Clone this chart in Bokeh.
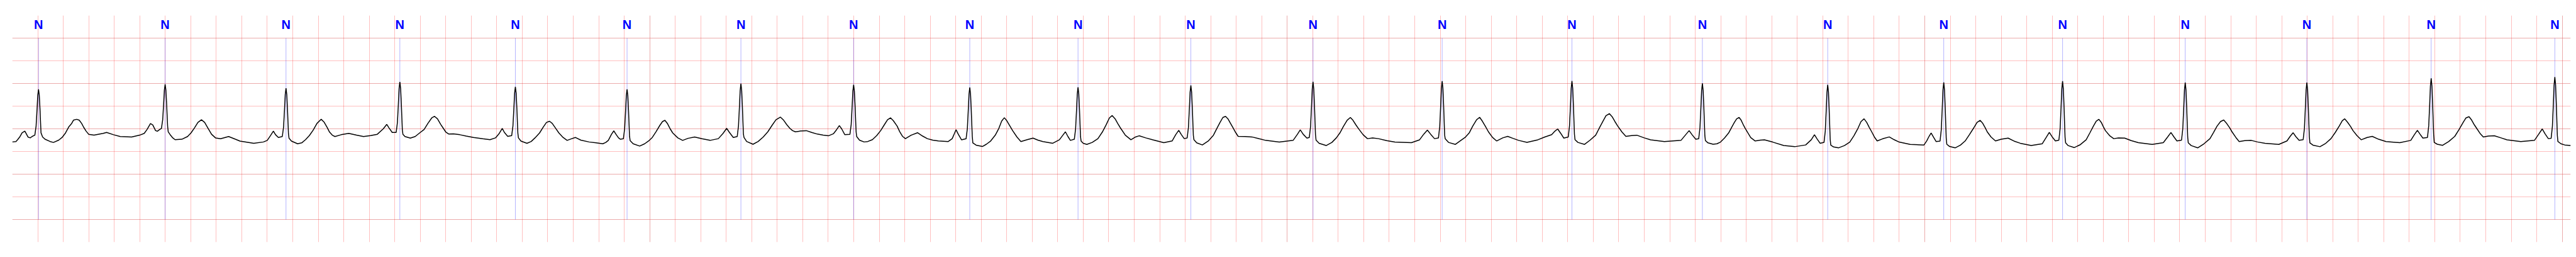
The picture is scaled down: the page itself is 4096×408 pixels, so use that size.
import numpy as np
from bokeh.plotting import figure
from bokeh.models import Range1d, Grid, FixedTicker, ColumnDataSource
from bokeh.core.properties import value
from bokeh.embed import file_html
from bokeh.resources import INLINE

# ---- data (time in s, amplitude in mV) ----
r_time = [0.206, 1.199, 2.147, 3.040, 3.946, 4.822, 5.715, 6.599, 7.510, 8.359, 9.244,
          10.202, 11.215, 12.233, 13.256, 14.239, 15.149, 16.081, 17.043, 17.997, 18.972, 19.942]
r_amp = [0.87, 0.98, 0.894, 1.033, 0.927, 0.869, 0.995, 0.970, 0.912, 0.914, 0.957,
         1.038, 1.050, 1.053, 1.002, 0.970, 1.025, 1.050, 1.020, 1.020, 1.114, 1.141]
pr_level = [-0.14, 0.01, -0.17, -0.08, -0.15, -0.22, -0.17, -0.12, -0.22, -0.23, -0.20,
            -0.19, -0.20, -0.18, -0.22, -0.30, -0.27, -0.25, -0.25, -0.24, -0.19, -0.21]
beat_label = ["N"] * 22

# QRS profile read from the enlarged first beat (offset from R in s, fraction of R height above PR level)
qrs_dt = [-0.029, -0.019, -0.0115, -0.006, 0.0, 0.006, 0.0115, 0.016, 0.0195]
qrs_frac = [0.0, 0.2, 0.57, 0.87, 1.0, 0.87, 0.57, 0.27, 0.05]

# P, T, U waves and baseline
wave = [
    (0.000, -0.29), (0.029, -0.28), (0.042, -0.24), (0.061, -0.17), (0.077, -0.09), (0.0985, -0.05),
    (0.112, -0.12), (0.123, -0.18), (0.141, -0.20), (0.155, -0.17), (0.168, -0.15),
    (0.230, -0.12), (0.238, -0.18), (0.257, -0.23), (0.297, -0.28), (0.323, -0.30), (0.364, -0.25),
    (0.391, -0.19), (0.418, -0.09), (0.445, 0.05), (0.464, 0.11), (0.48, 0.19), (0.505, 0.21),
    (0.525, 0.19), (0.544, 0.12), (0.56, 0.035), (0.579, -0.05), (0.599, -0.12), (0.641, -0.14),
    (0.713, -0.10), (0.74, -0.08), (0.794, -0.13), (0.847, -0.17), (0.936, -0.18), (0.999, -0.14),
    (1.035, -0.10), (1.057, -0.015), (1.084, 0.116), (1.102, 0.086), (1.124, -0.04), (1.138, -0.053),
    (1.156, -0.015),
    (1.223, -0.065), (1.241, -0.14), (1.259, -0.20), (1.277, -0.24), (1.330, -0.23), (1.375, -0.17),
    (1.402, -0.09), (1.429, 0.02), (1.456, 0.14), (1.484, 0.20), (1.509, 0.14), (1.536, 0.01),
    (1.563, -0.12), (1.594, -0.20), (1.634, -0.22), (1.697, -0.17), (1.75, -0.23), (1.786, -0.27),
    (1.894, -0.32), (1.97, -0.29), (2.000, -0.255), (2.025, -0.15), (2.048, -0.05), (2.065, -0.13),
    (2.087, -0.19),
    (2.171, -0.21), (2.19, -0.27), (2.238, -0.33), (2.27, -0.31), (2.30, -0.24), (2.33, -0.15),
    (2.36, -0.03), (2.39, 0.12), (2.423, 0.21), (2.445, 0.15), (2.47, 0.03), (2.488, -0.07),
    (2.51, -0.14), (2.531, -0.17), (2.58, -0.13), (2.639, -0.10), (2.70, -0.14), (2.755, -0.17),
    (2.81, -0.15), (2.863, -0.12), (2.91, 0.0), (2.937, 0.098), (2.955, 0.02), (2.980, -0.08),
    (3.064, -0.12), (3.08, -0.17), (3.122, -0.205), (3.16, -0.17), (3.20, -0.08), (3.23, -0.015),
    (3.26, 0.12), (3.29, 0.24), (3.312, 0.275), (3.335, 0.22), (3.36, 0.10), (3.381, 0.01),
    (3.40, -0.07), (3.424, -0.116), (3.46, -0.11), (3.51, -0.13), (3.56, -0.16), (3.618, -0.19),
    (3.69, -0.22), (3.747, -0.24), (3.79, -0.20), (3.82, -0.10), (3.843, 0.01), (3.86, -0.08),
    (3.886, -0.167),
    (3.970, -0.20), (3.99, -0.27), (4.037, -0.32), (4.07, -0.28), (4.10, -0.20), (4.136, -0.09),
    (4.165, 0.04), (4.19, 0.14), (4.214, 0.167), (4.235, 0.12), (4.26, 0.02), (4.287, -0.09),
    (4.32, -0.19), (4.352, -0.255), (4.385, -0.22), (4.416, -0.19), (4.46, -0.25), (4.524, -0.29),
    (4.58, -0.31), (4.632, -0.33), (4.655, -0.30), (4.675, -0.255), (4.70, -0.12), (4.718, -0.045),
    (4.735, -0.12), (4.755, -0.20), (4.770, -0.23),
    (4.846, -0.26), (4.87, -0.33), (4.921, -0.38), (4.96, -0.33), (4.99, -0.27), (5.02, -0.19),
    (5.05, -0.06), (5.08, 0.08), (5.10, 0.16), (5.119, 0.187), (5.14, 0.11), (5.16, 0.00),
    (5.18, -0.09), (5.22, -0.20), (5.258, -0.255), (5.30, -0.21), (5.352, -0.18), (5.41, -0.22),
    (5.473, -0.255), (5.538, -0.217), (5.575, -0.10), (5.603, 0.01), (5.625, -0.08), (5.655, -0.19),
    (5.739, -0.19), (5.76, -0.28), (5.81, -0.34), (5.85, -0.28), (5.89, -0.18), (5.926, -0.066),
    (5.96, 0.08), (5.99, 0.20), (6.025, 0.258), (6.05, 0.19), (6.075, 0.09), (6.099, 0.01),
    (6.12, -0.04), (6.142, -0.066), (6.18, -0.05), (6.228, -0.04), (6.27, -0.08), (6.314, -0.116),
    (6.36, -0.14), (6.401, -0.154), (6.44, -0.11), (6.465, -0.02), (6.487, 0.071), (6.505, 0.0),
    (6.530, -0.129),
    (6.623, -0.17), (6.645, -0.25), (6.681, -0.29), (6.71, -0.28), (6.746, -0.24), (6.78, -0.15),
    (6.811, -0.04), (6.84, 0.09), (6.865, 0.20), (6.888, 0.242), (6.91, 0.18), (6.94, 0.06),
    (6.96, -0.06), (6.983, -0.167), (7.005, -0.217), (7.05, -0.14), (7.10, -0.086), (7.14, -0.16),
    (7.177, -0.217), (7.22, -0.25), (7.264, -0.268), (7.341, -0.28), (7.372, -0.217), (7.39, -0.10),
    (7.402, -0.02), (7.42, -0.12), (7.445, -0.242),
    (7.534, -0.31), (7.56, -0.36), (7.609, -0.39), (7.64, -0.34), (7.674, -0.268), (7.71, -0.14),
    (7.738, 0.01), (7.76, 0.17), (7.781, 0.245), (7.80, 0.18), (7.825, 0.06), (7.846, -0.04),
    (7.88, -0.18), (7.911, -0.28), (7.96, -0.24), (8.006, -0.205), (8.045, -0.25), (8.083, -0.28),
    (8.161, -0.318), (8.213, -0.242), (8.24, -0.14), (8.260, -0.066), (8.28, -0.17), (8.299, -0.255),
    (8.383, -0.27), (8.40, -0.32), (8.428, -0.343), (8.47, -0.30), (8.515, -0.217), (8.55, -0.07),
    (8.579, 0.086), (8.605, 0.24), (8.627, 0.293), (8.65, 0.22), (8.67, 0.12), (8.688, 0.035),
    (8.73, -0.14), (8.774, -0.242), (8.81, -0.18), (8.838, -0.154), (8.89, -0.20), (8.946, -0.242),
    (9.032, -0.306), (9.097, -0.268), (9.125, -0.13), (9.149, -0.033), (9.17, -0.13), (9.192, -0.217),
    (9.268, -0.24), (9.29, -0.31), (9.334, -0.356), (9.38, -0.27), (9.421, -0.141), (9.45, 0.02),
    (9.472, 0.136), (9.495, 0.25), (9.516, 0.275), (9.535, 0.22), (9.555, 0.12), (9.572, 0.035),
    (9.595, -0.08), (9.615, -0.167), (9.67, -0.17), (9.723, -0.179), (9.78, -0.22), (9.831, -0.255),
    (9.938, -0.293), (10.046, -0.255), (10.08, -0.12), (10.102, -0.023), (10.125, -0.12), (10.154, -0.205),
    (10.226, -0.25), (10.25, -0.32), (10.305, -0.369), (10.35, -0.30), (10.385, -0.20), (10.413, -0.091),
    (10.44, 0.05), (10.47, 0.19), (10.495, 0.25), (10.515, 0.19), (10.54, 0.08), (10.564, -0.015),
    (10.595, -0.13), (10.629, -0.217), (10.67, -0.20), (10.715, -0.217), (10.78, -0.26), (10.844, -0.293),
    (10.974, -0.306), (11.038, -0.242), (11.07, -0.12), (11.099, -0.028), (11.125, -0.12), (11.155, -0.217),
    (11.239, -0.22), (11.265, -0.30), (11.319, -0.343), (11.36, -0.26), (11.395, -0.19), (11.427, -0.091),
    (11.455, 0.06), (11.485, 0.20), (11.509, 0.253), (11.53, 0.17), (11.555, 0.05), (11.578, -0.066),
    (11.61, -0.19), (11.642, -0.268), (11.69, -0.20), (11.729, -0.167), (11.77, -0.21), (11.815, -0.255),
    (11.880, -0.30), (11.966, -0.242), (12.02, -0.18), (12.074, -0.129), (12.10, -0.05), (12.121, -0.003),
    (12.145, -0.10), (12.169, -0.205),
    (12.257, -0.24), (12.28, -0.30), (12.332, -0.343), (12.375, -0.25), (12.419, -0.141), (12.45, 0.03),
    (12.475, 0.162), (12.50, 0.29), (12.527, 0.333), (12.55, 0.26), (12.57, 0.16), (12.592, 0.061),
    (12.625, -0.07), (12.656, -0.167), (12.70, -0.15), (12.742, -0.141), (12.80, -0.20), (12.850, -0.242),
    (12.958, -0.28), (13.088, -0.255), (13.125, -0.13), (13.152, -0.04), (13.175, -0.13), (13.204, -0.23),
    (13.280, -0.26), (13.30, -0.31), (13.34, -0.34), (13.37, -0.33), (13.398, -0.293), (13.43, -0.20),
    (13.462, -0.091), (13.485, 0.03), (13.506, 0.136), (13.525, 0.22), (13.544, 0.25), (13.56, 0.19),
    (13.575, 0.10), (13.592, 0.01), (13.615, -0.10), (13.635, -0.192), (13.670, -0.268), (13.71, -0.25),
    (13.743, -0.242), (13.808, -0.293), (13.894, -0.369), (13.980, -0.394), (14.066, -0.356),
    (14.110, -0.242), (14.135, -0.129), (14.155, -0.22), (14.179, -0.318),
    (14.263, -0.36), (14.285, -0.40), (14.325, -0.419), (14.37, -0.37), (14.412, -0.293), (14.445, -0.15),
    (14.476, 0.01), (14.50, 0.16), (14.524, 0.22), (14.545, 0.14), (14.565, 0.03), (14.584, -0.066),
    (14.605, -0.18), (14.627, -0.268), (14.67, -0.22), (14.722, -0.179), (14.76, -0.24), (14.800, -0.293),
    (14.886, -0.343), (14.994, -0.356), (15.015, -0.268), (15.035, -0.16), (15.050, -0.091), (15.07, -0.19),
    (15.089, -0.28),
    (15.173, -0.34), (15.195, -0.39), (15.240, -0.419), (15.28, -0.36), (15.317, -0.268), (15.35, -0.13),
    (15.382, 0.01), (15.41, 0.14), (15.434, 0.187), (15.455, 0.12), (15.475, 0.02), (15.490, -0.066),
    (15.52, -0.18), (15.555, -0.268), (15.60, -0.23), (15.654, -0.205), (15.70, -0.27), (15.749, -0.318),
    (15.835, -0.369), (15.921, -0.331), (15.955, -0.18), (15.977, -0.078), (16.00, -0.18), (16.025, -0.268),
    (16.105, -0.31), (16.125, -0.37), (16.172, -0.414), (16.22, -0.35), (16.266, -0.242), (16.295, -0.09),
    (16.323, 0.061), (16.345, 0.17), (16.366, 0.21), (16.385, 0.14), (16.40, 0.05), (16.417, -0.04),
    (16.45, -0.15), (16.482, -0.217), (16.52, -0.20), (16.568, -0.205), (16.62, -0.26), (16.676, -0.306),
    (16.784, -0.343), (16.871, -0.306), (16.905, -0.18), (16.931, -0.081), (16.955, -0.18), (16.978, -0.268),
    (17.067, -0.31), (17.09, -0.37), (17.142, -0.419), (17.19, -0.33), (17.237, -0.217), (17.265, -0.08),
    (17.293, 0.061), (17.32, 0.16), (17.345, 0.194), (17.365, 0.13), (17.39, 0.03), (17.410, -0.066),
    (17.44, -0.19), (17.466, -0.28), (17.51, -0.26), (17.561, -0.255), (17.61, -0.29), (17.669, -0.318),
    (17.777, -0.343), (17.841, -0.268), (17.865, -0.17), (17.889, -0.086), (17.91, -0.17), (17.936, -0.255),
    (18.021, -0.31), (18.045, -0.36), (18.100, -0.394), (18.145, -0.32), (18.186, -0.217), (18.22, -0.08),
    (18.251, 0.061), (18.275, 0.18), (18.294, 0.22), (18.315, 0.15), (18.34, 0.05), (18.359, -0.04),
    (18.39, -0.15), (18.424, -0.242), (18.47, -0.19), (18.510, -0.167), (18.56, -0.23), (18.618, -0.28),
    (18.726, -0.306), (18.812, -0.255), (18.84, -0.13), (18.864, -0.033), (18.885, -0.12), (18.907, -0.205),
    (18.996, -0.30), (19.02, -0.34), (19.062, -0.364), (19.11, -0.28), (19.157, -0.167), (19.19, -0.02),
    (19.222, 0.136), (19.245, 0.24), (19.269, 0.268), (19.29, 0.19), (19.31, 0.09), (19.329, 0.01),
    (19.355, -0.10), (19.381, -0.179), (19.42, -0.16), (19.467, -0.154), (19.52, -0.20), (19.567, -0.242),
    (19.675, -0.28), (19.782, -0.255), (19.815, -0.12), (19.843, -0.003), (19.865, -0.11), (19.891, -0.217),
    (19.966, -0.28), (19.99, -0.33), (20.02, -0.356), (20.066, -0.369),
]
wave_t = [w[0] for w in wave]
wave_v = [w[1] for w in wave]

# ---- assemble the trace ----
pts = list(zip(wave_t, wave_v))
for tr, a, pr in zip(r_time, r_amp, pr_level):
    for dt, f in zip(qrs_dt, qrs_frac):
        pts.append((tr + dt, pr + f * (a - pr)))
pts.sort()
ecg_t = [q[0] for q in pts]
ecg_v = [q[1] for q in pts]

t_end = 20.066
p = figure(width=4096, height=408,
           x_range=Range1d(0, t_end), y_range=Range1d(-2.5, 2.5),
           x_axis_location=None, y_axis_location=None,
           output_backend="svg", toolbar_location=None,
           min_border_left=19, min_border_right=9, min_border_top=24, min_border_bottom=24)
p.outline_line_color = None
p.background_fill_color = "white"
p.border_fill_color = "white"

xticks = [round(0.2 * i, 1) for i in range(101)]
yticks = [-2.5, -2.0, -1.5, -1.0, -0.5, 0.0, 0.5, 1.0, 1.5, 2.0]
p.add_layout(Grid(dimension=0, ticker=FixedTicker(ticks=xticks),
                  grid_line_color="red", grid_line_alpha=0.25, grid_line_width=1))
p.add_layout(Grid(dimension=1, ticker=FixedTicker(ticks=yticks),
                  grid_line_color="red", grid_line_alpha=0.25, grid_line_width=1))

ann = ColumnDataSource(dict(x=r_time, y0=[-2.0] * len(r_time), y1=[2.0] * len(r_time),
                            ty=[2.296] * len(r_time), lab=beat_label))
p.segment(x0="x", y0="y0", x1="x", y1="y1", source=ann,
          line_color="blue", line_alpha=0.5, line_width=0.6)

p.line(ecg_t, ecg_v, line_color="black", line_width=1.5)

p.text(x="x", y="ty", text="lab", source=ann, text_align="center", text_baseline="alphabetic",
       text_font=value("Liberation Sans"), text_font_style="bold", text_font_size="20px",
       text_color="blue")

open("out.html", "w").write(file_html(p, INLINE))
